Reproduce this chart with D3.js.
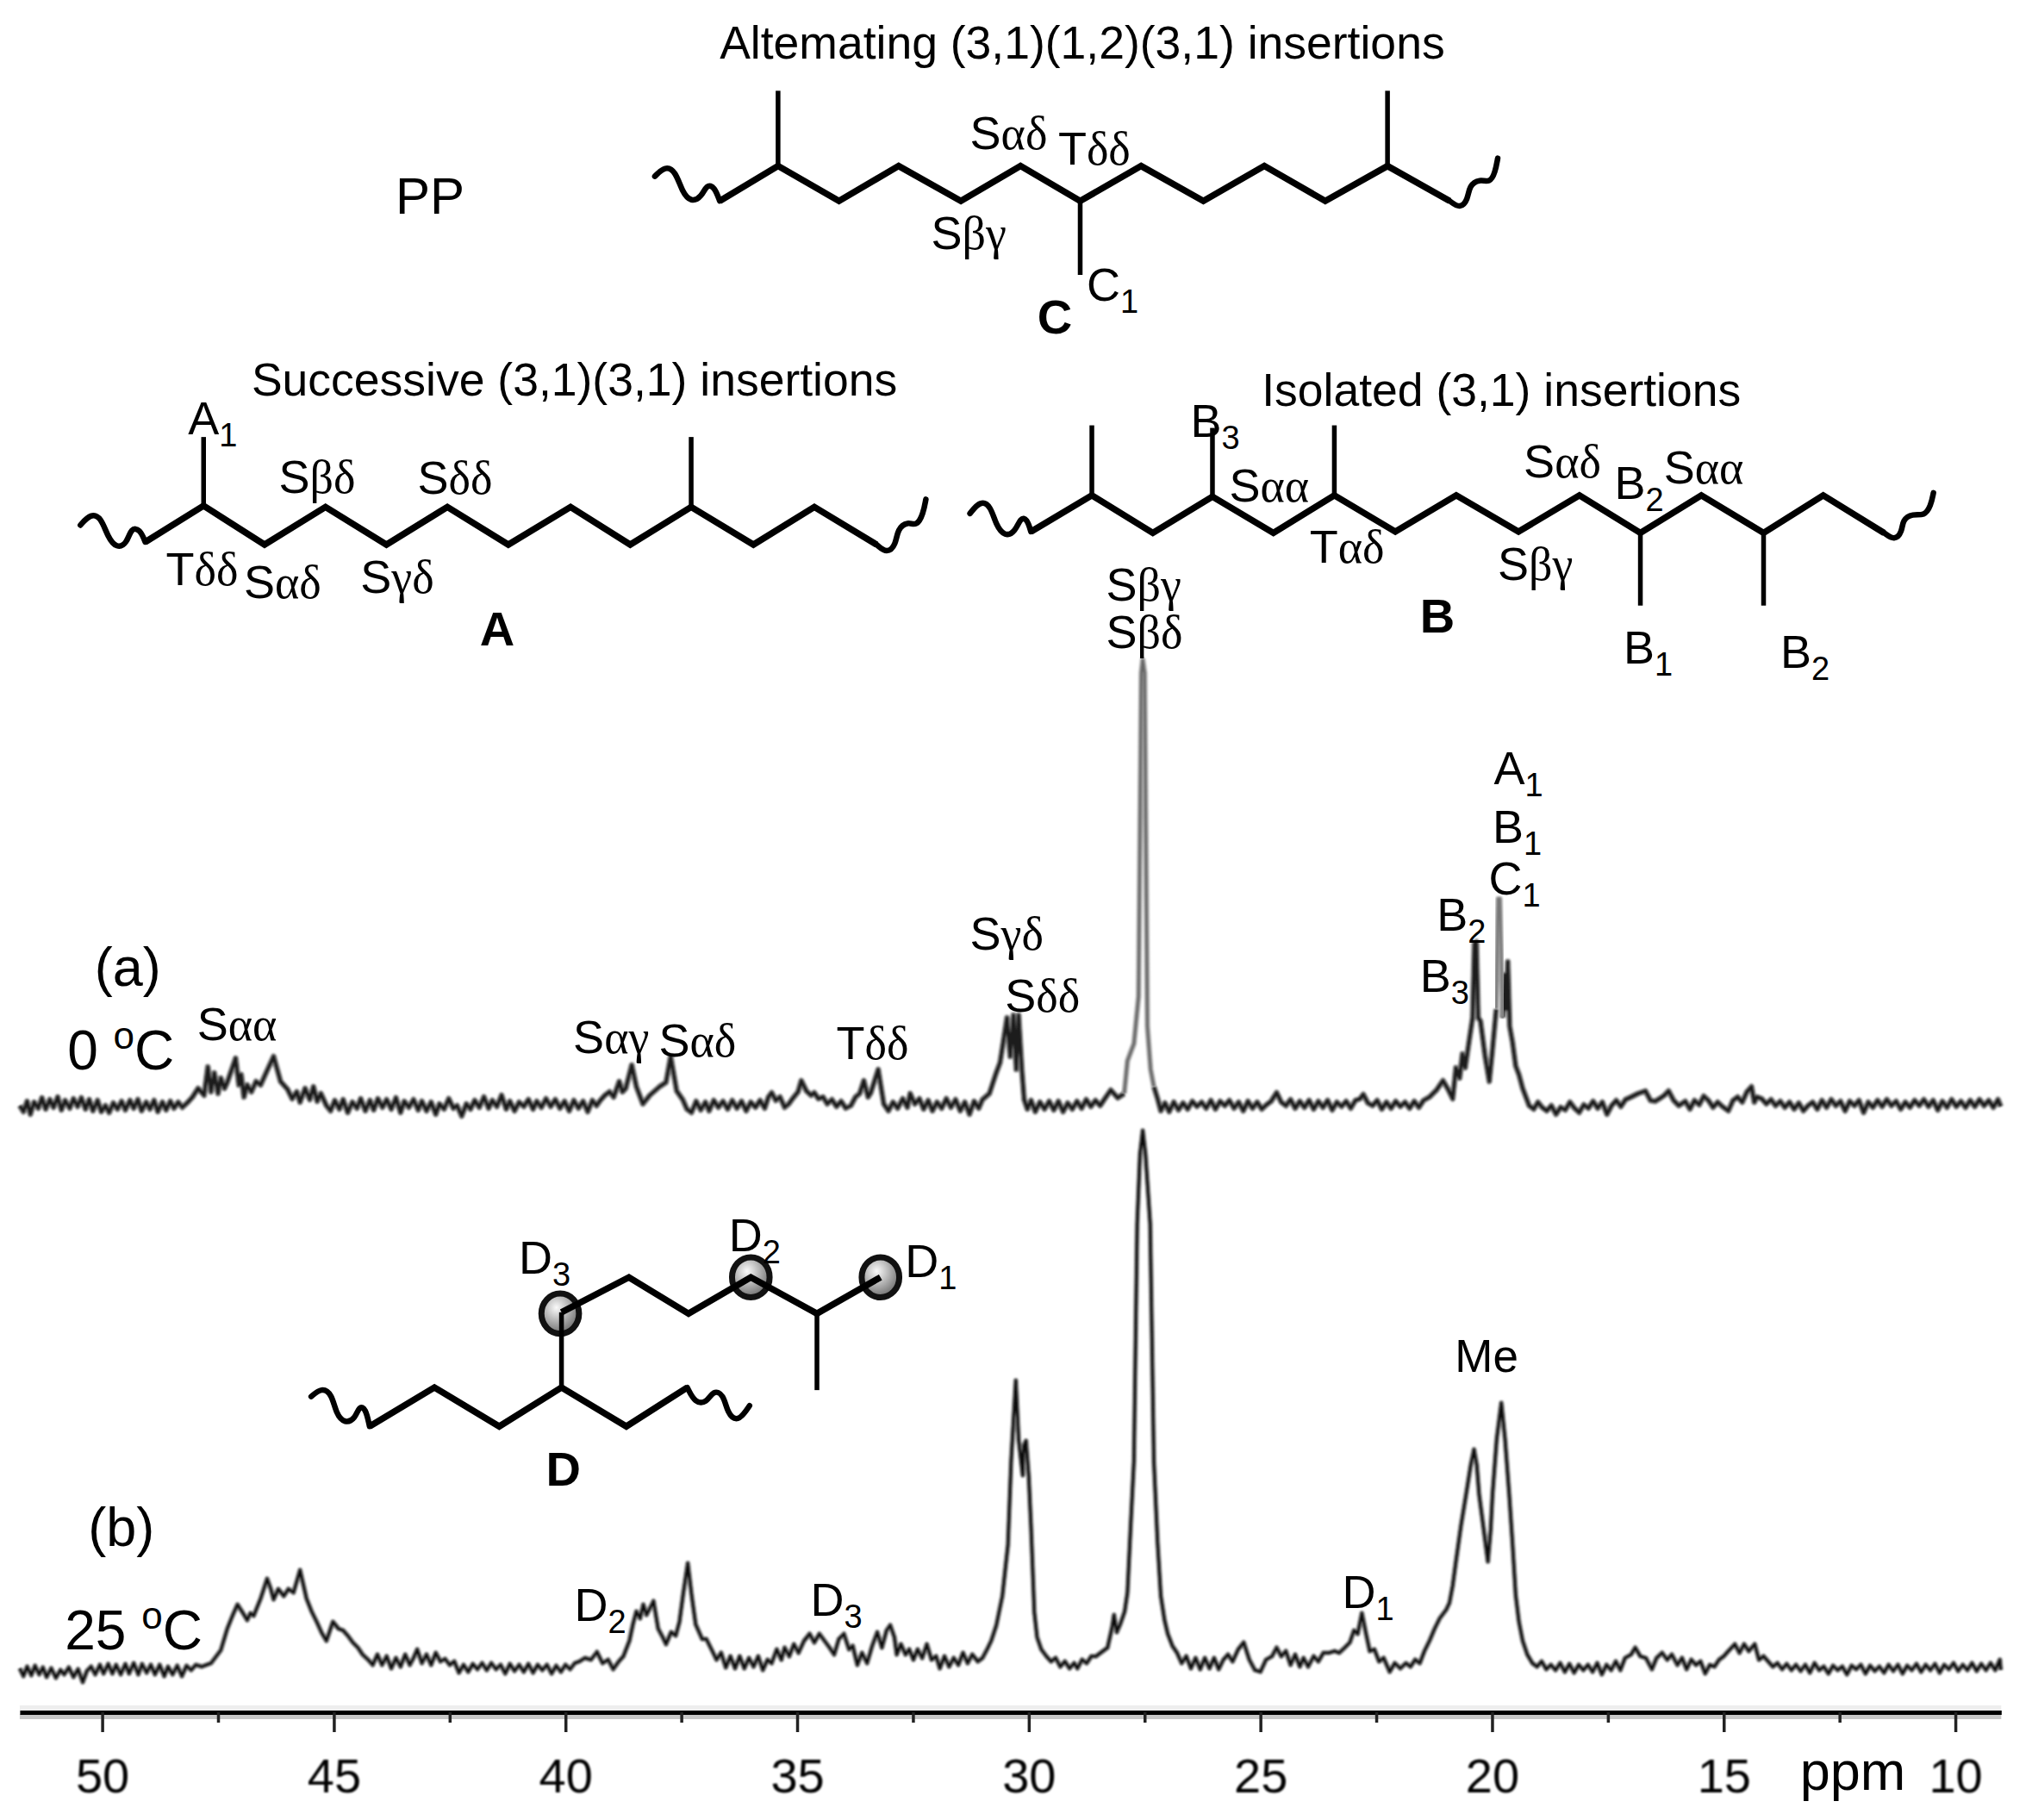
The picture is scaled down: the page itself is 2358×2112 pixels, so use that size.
<!DOCTYPE html>
<html><head><meta charset="utf-8">
<script src="https://cdnjs.cloudflare.com/ajax/libs/d3/7.8.5/d3.min.js"></script>
<style>html,body{margin:0;padding:0;background:#fff}svg{display:block}text{fill:#000}</style>
</head><body><svg id="c" width="2358" height="2112"></svg>
<script>
// ---------- axis ----------
const ppmMajor=[50,45,40,35,30,25,20,15,10];
const ppmMinor=[47.5,42.5,37.5,32.5,27.5,22.5,17.5,12.5];
// ---------- spectrum (a) 0 C : [ppm, intensity] ----------
const traceA1=[[51.78,-2],[51.7,-9],[51.62,3],[51.55,-12],[51.47,2],[51.38,-5],[51.3,7],[51.22,-6],[51.13,5],[51.05,-4],[50.96,8],[50.88,-7],[50.8,4],[50.7,-5],[50.62,6],[50.53,-3],[50.45,7],[50.36,-6],[50.28,5],[50.2,-8],[50.1,4],[50.02,-9],[49.93,-2],[49.85,-10],[49.76,1],[49.67,-6],[49.58,3],[49.5,-7],[49.4,4],[49.32,-5],[49.23,5],[49.15,-8],[49.05,2],[48.97,-6],[48.88,4],[48.8,-9],[48.7,2],[48.62,-7],[48.53,3],[48.45,-5],[48.36,2],[48.27,-4],
[48.15,2],[48.05,8],[47.93,18],[47.8,10],[47.72,43],[47.65,14],[47.58,36],[47.5,12],[47.44,30],[47.36,18],[47.3,25],[47.12,53],[47.05,22],[47,34],[46.94,8],[46.87,22],[46.78,14],[46.68,26],[46.58,22],[46.48,34],[46.3,55],[46.15,26],[46,17],[45.9,6],[45.8,14],[45.73,2],[45.62,18],[45.52,5],[45.44,20],[45.36,3],[45.28,12],[45.16,-2]];
const traceA2=[[45.07,-8],[44.98,4],[44.88,-6],[44.8,5],[44.7,-10],[44.6,2],[44.5,-5],[44.42,6],[44.32,-8],[44.22,4],[44.14,-7],[44.05,6],[43.95,-4],[43.86,5],[43.76,-6],[43.66,7],[43.56,-10],[43.48,3],[43.38,-4],[43.28,5],[43.18,-7],[43.1,3],[43,-8],[42.9,2],[42.8,-12],[42.72,0],[42.62,-6],[42.52,6],[42.42,-5],[42.34,-2],[42.24,-14],[42.14,0],[42.05,-6],[41.96,4],[41.86,-4],[41.76,8],[41.66,-5],[41.58,4],[41.48,-3],[41.38,10],[41.28,-6],[41.2,3],[41.1,-8],[41,2],[40.9,-3],[40.8,5],[40.7,-6],[40.62,3],[40.52,-4],[40.42,6],[40.32,-3],[40.22,5],[40.12,-5],[40.02,3],[39.92,-8],[39.82,4],[39.72,-5],[39.62,3],[39.52,-9],[39.42,4],[39.33,-2],
[39.25,4],[39.15,10],[39.05,14],[38.96,8],[38.84,26],[38.77,14],[38.7,18],[38.57,45],[38.47,20],[38.33,0],[38.18,10],[37.97,20],[37.83,25],[37.73,55],[37.6,15],[37.47,5]];
const traceA3=[[37.38,-6],[37.28,-10],[37.18,3],[37.08,-7],[36.98,2],[36.9,-8],[36.8,4],[36.7,-4],[36.6,3],[36.5,-6],[36.4,4],[36.3,-5],[36.2,3],[36.1,-8],[36,2],[35.9,-4],[35.8,4],[35.7,-5],[35.62,8],[35.55,13],[35.46,4],[35.37,8],[35.27,-4],[35.18,0],[35.1,6],[34.98,14],[34.91,27],[34.8,15],[34.7,10],[34.63,13],[34.54,6],[34.44,8],[34.35,0],[34.25,5],[34.15,-3],[34.05,3],[33.95,-5],[33.84,-2],[33.74,8],[33.65,12],[33.56,27],[33.47,8],[33.41,13],[33.25,40],[33.13,0],[33.03,-8],[32.93,2],[32.83,-5],[32.72,6],[32.62,-4],[32.56,12],[32.46,0],[32.36,6],[32.27,-6],[32.17,4],[32.08,-8],[31.98,2],[31.88,-5],[31.78,6],[31.68,-4],[31.58,5],[31.48,-8],[31.38,2],[31.28,-12],[31.18,3],[31.08,-5],[31,5],[30.85,12],[30.71,35],[30.62,48]];
const traceA4=[[30.55,72],[30.47,100],[30.4,55],[30.33,103],[30.27,40],[30.22,103],[30.15,40],[30.1,5],[30.03,-6],[29.95,4],[29.86,-9],[29.76,2],[29.66,-6],[29.56,3],[29.46,-7],[29.36,3],[29.26,-9],[29.16,1],[29.06,-6],[28.96,3],[28.86,-5],[28.76,5],[28.66,-3],[28.56,4],[28.46,-2],[28.36,6],[28.23,16],[28.08,7],[27.94,12]];
const peakA1=[[27.94,12],[27.87,50],[27.73,70],[27.63,125],[27.57,500],[27.54,515],[27.5,500],[27.44,90],[27.37,40],[27.3,20]];
const traceA5=[[27.3,20],[27.22,6],[27.15,-8],[27.06,1],[26.97,-9],[26.87,2],[26.77,-7],[26.67,1],[26.57,-6],[26.47,3],[26.37,-3],[26.27,2],[26.17,-5],[26.07,4],[25.97,-6],[25.87,3],[25.77,-2],[25.67,4],[25.57,-5],[25.47,2],[25.37,-8],[25.27,3],[25.17,-5],[25.07,2],[24.97,-6],[24.87,-1],[24.77,3],[24.65,13],[24.55,2],[24.45,-2],[24.35,5],[24.25,-5],[24.15,3],[24.05,-4],[23.95,4],[23.85,-6],[23.75,3],[23.65,-4],[23.55,4],[23.45,-7],[23.35,2],[23.25,-3],[23.15,3],[23.05,-5],[22.95,4],[22.85,6],[22.78,11],[22.68,1],[22.58,-2],[22.48,4],[22.38,-6],[22.28,2],[22.18,-5],[22.08,3],[21.98,-3],[21.88,2],[21.78,-5],[21.68,3],[21.58,-4],[21.48,4],[21.35,8],[21.2,16],[21.06,27],[20.95,17],[20.85,6],
[20.78,42],[20.7,30],[20.64,58],[20.58,42],[20.49,75],[20.42,100],[20.38,186],[20.34,188],[20.3,100],[20.25,96],[20.15,55],[20.06,26],[20,58],[19.91,110]];
const peakA2=[[19.91,110],[19.87,238],[19.83,238],[19.77,100]];
const traceA6=[[19.77,100],[19.72,150],[19.69,110],[19.66,165],[19.62,90],[19.56,72],[19.49,44],[19.42,34],[19.34,18],[19.27,8],[19.2,-2],[19.1,-6],[19.01,2],[18.92,-4],[18.82,-8],[18.72,-2],[18.62,-12],[18.52,-4],[18.42,-7],[18.32,2],[18.22,-5],[18.12,-10],[18.02,-1],[17.92,-5],[17.82,3],[17.72,-5],[17.62,2],[17.52,-12],[17.42,-2],[17.32,4],[17.22,-3],[17.12,5],[17,8],[16.85,12],[16.69,15],[16.58,4],[16.48,3],[16.36,7],[16.28,10],[16.19,15],[16.08,4],[15.97,-2],[15.83,3],[15.73,-6],[15.63,4],[15.53,-1],[15.43,9],[15.33,4],[15.23,-4],[15.13,2],[15.03,-3],[14.9,-8],[14.8,4],[14.7,8],[14.6,2],[14.5,14],[14.4,20],[14.34,2],[14.28,8],[14.18,6],[14.08,0],[13.98,5],[13.88,-2],[13.78,3],[13.68,-4],[13.58,2],[13.48,-6],[13.38,1],[13.28,-8],[13.18,-2],[13.08,2],[12.98,-6],[12.88,4],[12.78,-4],[12.68,5],[12.58,-2],[12.48,3],[12.38,-8],[12.28,3],[12.18,-2],[12.08,4],[11.98,-10],[11.88,2],[11.78,-4],[11.68,4],[11.58,-3],[11.48,5],[11.38,-2],[11.28,3],[11.18,-6],[11.08,2],[10.98,-4],[10.88,4],[10.78,-2],[10.68,5],[10.58,-3],[10.48,4],[10.38,-7],[10.28,3],[10.18,-4],[10.08,5],[9.98,-3],[9.88,3],[9.78,-4],[9.68,4],[9.58,-3],[9.48,5],[9.38,-2],[9.28,4],[9.18,-4],[9.08,5],[9.02,-3]];
// ---------- spectrum (b) 25 C : [ppm, intensity] ----------
const traceB1=[[51.78,4],[51.7,-5],[51.62,6],[51.53,-4],[51.45,7],[51.36,-3],[51.28,5],[51.2,-6],[51.1,4],[51,-7],[50.9,2],[50.82,-3],[50.72,5],[50.62,-6],[50.52,3],[50.42,-12],[50.33,1],[50.24,6],[50.15,-3],[50.05,8],[49.97,-2],[49.87,9],[49.78,-2],[49.7,8],[49.6,-3],[49.5,9],[49.42,-2],[49.32,10],[49.22,-3],[49.14,9],[49.04,-1],[48.95,8],[48.86,-3],[48.76,8],[48.66,-5],[48.58,6],[48.48,-3],[48.38,7],[48.28,-5],[48.18,7],[48.08,2],[47.98,8],[47.85,6],[47.65,10],[47.44,25],[47.3,50],[47.18,66],[47.08,78],[46.96,68],[46.87,60],[46.8,68],[46.73,65],[46.58,85],[46.44,108],[46.36,96],[46.3,84],[46.2,96],[46.08,88],[45.98,96],[45.87,92],[45.73,118],[45.59,85],[45.48,70],[45.37,58],[45.26,45],[45.16,36],[45.02,58],[44.9,50],[44.8,48],[44.7,42],[44.59,34],[44.48,28],[44.38,20],[44.26,14],[44.16,8],[44.06,20],[43.96,8],[43.86,18],[43.76,4],[43.66,16],[43.56,6],[43.46,20],[43.36,8],[43.28,16],[43.2,26],[43.1,10],[43,20],[42.9,8],[42.8,22],[42.7,12],[42.6,15],[42.5,8],[42.4,12],[42.3,-1],[42.2,8],[42.1,0],[42,9],[41.9,3],[41.8,10],[41.7,2],[41.6,10],[41.5,3],[41.4,8],[41.3,-2],[41.2,9],[41.1,1],[41,8],[40.9,0],[40.8,9],[40.7,-1],[40.6,8],[40.5,2],[40.4,8],[40.3,-2],[40.2,7],[40.1,0],[40,8],[39.9,3],[39.8,10],[39.7,12],[39.58,16],[39.45,14],[39.32,23],[39.2,10],[39.08,14],[38.97,3],[38.85,12],[38.75,18],[38.62,36],[38.54,56],[38.47,70],[38.39,62],[38.32,78],[38.25,66],[38.1,82],[38,50],[37.9,40],[37.83,32],[37.72,46],[37.62,42],[37.54,58],[37.46,90],[37.36,126],[37.28,90],[37.19,55],[37.05,38],[36.96,38],[36.83,24],[36.74,14],[36.64,22],[36.54,5],[36.44,18],[36.34,4],[36.24,18],[36.14,4],[36.04,16],[35.94,6],[35.84,18],[35.74,2],[35.64,14],[35.55,10],[35.44,26],[35.34,14],[35.27,28],[35.17,18],[35.07,32],[34.97,22],[34.85,36],[34.73,44],[34.63,34],[34.52,44],[34.41,36],[34.3,28],[34.2,20],[34.1,38],[33.99,44],[33.88,26],[33.8,30],[33.7,8],[33.6,22],[33.49,10],[33.38,30],[33.27,46],[33.17,28],[33.07,48],[32.99,54],[32.9,40],[32.85,20],[32.76,32],[32.66,20],[32.58,26],[32.49,14],[32.4,26],[32.3,16],[32.2,32],[32.1,14],[32,18],[31.92,4],[31.82,18],[31.72,6],[31.62,16],[31.52,8],[31.42,22],[31.32,10],[31.22,20],[31.1,12],[31,16],[30.9,26],[30.81,36],[30.7,54],[30.57,88]];
const traceB2=[[30.45,147],[30.38,245],[30.28,338],[30.22,270],[30.13,228],[30.11,262],[30.06,268],[30,226],[29.95,167],[29.88,69],[29.82,40],[29.73,26],[29.62,18],[29.52,12],[29.42,16],[29.32,6],[29.22,12],[29.12,4],[29.02,10],[28.95,4],[28.85,14],[28.75,10],[28.65,18],[28.55,18],[28.45,22],[28.3,28],[28.2,52],[28.16,66],[28.1,46],[28.02,56],[27.93,70],[27.87,92],[27.8,170],[27.73,245],[27.66,520],[27.6,600],[27.54,628],[27.48,600],[27.38,520],[27.3,245],[27.22,150],[27.15,88],[27.07,60],[27,44],[26.9,30],[26.8,22],[26.7,10],[26.6,18],[26.5,4],[26.4,16],[26.3,3],[26.2,16],[26.1,4],[26,16],[25.9,3],[25.8,14],[25.7,20],[25.6,12],[25.48,26],[25.36,34],[25.24,14],[25.12,2],[25,0],[24.88,14],[24.75,18],[24.65,28],[24.55,18],[24.45,24],[24.35,8],[24.25,20],[24.15,6],[24.07,16],[23.97,6],[23.85,18],[23.75,12],[23.64,22],[23.52,22],[23.4,24],[23.3,22],[23.18,28],[23.07,34],[22.98,48],[22.9,44],[22.81,68],[22.72,44],[22.64,24],[22.54,26],[22.44,12],[22.34,16],[22.21,0],[22.1,10],[21.98,4],[21.86,10],[21.76,6],[21.66,14],[21.56,10],[21.46,24],[21.35,36],[21.24,50],[21.13,62],[20.99,72],[20.92,80],[20.85,100],[20.78,128],[20.67,170],[20.56,206],[20.46,240],[20.39,258],[20.33,240],[20.28,206],[20.18,165],[20.09,128],[20.03,165],[19.99,206],[19.9,270],[19.8,312],[19.72,270],[19.63,206],[19.56,150],[19.49,89],[19.42,58],[19.34,36],[19.24,20],[19.13,10],[19.03,6],[18.93,12],[18.83,3],[18.73,8],[18.63,2],[18.53,10],[18.43,0],[18.33,9],[18.23,-1],[18.13,8],[18.03,2],[17.93,8],[17.83,0],[17.73,10],[17.63,-3],[17.53,8],[17.43,2],[17.33,12],[17.23,2],[17.13,16],[17,20],[16.91,28],[16.8,18],[16.68,16],[16.55,3],[16.45,16],[16.33,22],[16.22,14],[16.12,20],[16,8],[15.9,16],[15.8,3],[15.7,14],[15.6,8],[15.5,12],[15.4,-2],[15.3,8],[15.2,6],[15.1,14],[15,18],[14.9,24],[14.76,32],[14.66,22],[14.56,32],[14.46,24],[14.33,32],[14.24,14],[14.14,18],[14.04,12],[13.94,6],[13.84,10],[13.74,3],[13.64,9],[13.54,2],[13.44,8],[13.34,1],[13.24,8],[13.14,-1],[13.04,10],[12.94,2],[12.84,6],[12.74,-2],[12.64,7],[12.54,2],[12.44,6],[12.34,-3],[12.24,7],[12.14,3],[12.04,8],[11.94,-2],[11.84,7],[11.74,1],[11.64,6],[11.54,-1],[11.44,8],[11.34,1],[11.24,8],[11.14,-2],[11.04,7],[10.94,2],[10.84,9],[10.74,0],[10.64,8],[10.54,2],[10.44,9],[10.34,-1],[10.24,8],[10.14,3],[10.04,10],[9.94,1],[9.84,8],[9.74,2],[9.64,10],[9.54,1],[9.44,9],[9.34,2],[9.24,10],[9.14,2],[9.04,14],[9.02,2]];
// ---------- structure drawings (in a 1567-wide frame) ----------
const chainA=[[112,418],[157,390],[204,420],[251,391],[298,420],[345,391],[392,420],[440,391],[486,420],[533,391],[581,420],[628,391],[676,420]];
const methylA=[[[157,390],[157,337]],[[533,391],[533,337]]];
const chainB=[[795,410],[842,382],[889,411],[935,383],[982,411],[1029,382],[1076,410],[1123,382],[1171,410],[1218,382],[1265,411],[1312,382],[1360,411],[1406,382],[1453,411]];
const methylB=[[[842,382],[842,328]],[[935,383],[935,330]],[[1029,382],[1029,328]],[[1265,411],[1265,467]],[[1360,411],[1360,467]]];
const chainC=[[555,155],[600,128],[647,155],[693,128],[741,155],[787,128],[833,155],[880,128],[928,155],[975,128],[1022,155],[1070,128],[1118,155]];
const methylC=[[[600,128],[600,70]],[[1070,128],[1070,70]],[[833,155],[833,212]]];
const chainD1=[[285,1100],[335,1070],[385,1100],[433,1070],[483,1100],[530,1070]];
const chainD2=[[433,1012],[485,985],[531,1013],[579,985],[630,1013],[679,985]];
const methylD=[[[433,1070],[433,1012]],[[630,1013],[630,1072]]];
const squiggles=[
 [[62,405],[70,396],[78,399],[83,414],[90,423],[98,419],[101,407],[108,408],[112,418]],
 [[676,420],[684,427],[691,420],[692,408],[700,402],[707,406],[712,396],[714,385]],
 [[748,396],[756,386],[764,390],[768,405],[775,414],[783,410],[787,399],[792,400],[795,410]],
 [[1453,411],[1461,417],[1467,410],[1467,401],[1475,396],[1484,398],[1489,390],[1491,380]],
 [[505,136],[513,128],[521,132],[526,148],[533,156],[541,152],[545,142],[551,144],[555,155]],
 [[1118,155],[1126,161],[1132,154],[1133,143],[1141,138],[1149,141],[1153,133],[1155,122]],
 [[240,1077],[248,1070],[256,1075],[259,1090],[266,1098],[274,1094],[277,1084],[282,1086],[285,1100]],
 [[530,1070],[536,1082],[545,1082],[550,1072],[558,1075],[561,1090],[568,1096],[574,1090],[578,1084]]
];
const atoms=[[432,1013],[579,985],[679,985]];
// ---------- labels: left, baseline, main, tail ----------
const greekLabels=[
 [215,380,"S","βδ"],[322,381,"S","δδ"],[128,451,"T","δδ"],[188,461,"S","αδ"],[278,457,"S","γδ"],
 [748,115,"S","αδ"],[816,127,"T","δδ"],[718,192,"S","βγ"],
 [948,387,"S","αα"],[1010,434,"T","αδ"],[1175,368,"S","αδ"],[1283,373,"S","αα"],[1155,447,"S","βγ"],
 [853,463,"S","βγ"],[853,500,"S","βδ"],
 [152,802,"S","αα"],[442,812,"S","αγ"],[508,815,"S","αδ"],[645,817,"T","δδ"],[748,732,"S","γδ"],[775,780,"S","δδ"]];
const subLabels=[
 [145,335,"A","1"],[838,232,"C","1"],[918,337,"B","3"],[1245,385,"B","2"],[1252,512,"B","1"],[1373,515,"B","2"],
 [1152,605,"A","1"],[1151,650,"B","1"],[1148,690,"C","1"],[1108,718,"B","2"],[1095,765,"B","3"],
 [400,982,"D","3"],[562,965,"D","2"],[698,985,"D","1"],[443,1250,"D","2"],[625,1246,"D","3"],[1035,1240,"D","1"]];
const boldLabels=[[370,498,"A"],[1095,488,"B"],[800,257,"C"],[421,1146,"D"]];
const titles=[[555,45,"Altemating (3,1)(1,2)(3,1) insertions"],[194,305,"Successive (3,1)(3,1) insertions"],[973,313,"Isolated (3,1) insertions"],[1122,1058,"Me"]];

const svg=d3.select("#c");
const defs=svg.append("defs");
defs.append("filter").attr("id","soft").append("feGaussianBlur").attr("stdDeviation",1.1);
defs.append("filter").attr("id","soft2").append("feGaussianBlur").attr("stdDeviation",0.9);
const rg=defs.append("radialGradient").attr("id","ball").attr("cx","40%").attr("cy","35%").attr("r","70%");
rg.append("stop").attr("offset","0%").attr("stop-color","#fafafa");
rg.append("stop").attr("offset","100%").attr("stop-color","#666");

const sans="'Liberation Sans',Arial,sans-serif", serif="'Liberation Serif',serif";
const K=d3.scaleLinear().domain([0,1567]).range([0,2358]);
const x=d3.scaleLinear().domain([51.78,9.01]).range([22.9,2322.3]);
const yA=d3.scaleLinear().domain([0,515]).range([1281,766]);
const yB=d3.scaleLinear().domain([0,628]).range([1940,1312]);

// spectra
const line=y=>d3.line().x(d=>x(d[0])).y(d=>y(d[1]));
function trace(parts,y,under,uw,core,cw){
  const g=svg.append("g").attr("filter","url(#soft)");
  const d=line(y)(parts.flat());
  g.append("path").attr("d",d).attr("fill","none").attr("stroke",under).attr("stroke-width",uw).attr("stroke-linejoin","round");
  g.append("path").attr("d",d).attr("fill","none").attr("stroke",core).attr("stroke-width",cw).attr("stroke-linejoin","round");
}
trace([traceA1,traceA2,traceA3,traceA4],yA,"#888",7,"#1a1a1a",4.2);
trace([traceA5],yA,"#888",7,"#1a1a1a",4.2);
trace([traceA6],yA,"#888",7,"#1a1a1a",4.2);
trace([peakA1],yA,"#aaa",6.5,"#666",3);
trace([peakA2],yA,"#aaa",6,"#777",3);
trace([traceB1,traceB2],yB,"#888",6,"#111",3.6);

// axis
const axisY=1987;
svg.append("rect").attr("x",x.range()[0]).attr("width",x.range()[1]-x.range()[0]).attr("y",1979).attr("height",6).attr("fill","#eee");
svg.append("rect").attr("x",x.range()[0]).attr("width",x.range()[1]-x.range()[0]).attr("y",1989).attr("height",6).attr("fill","#c8c8c8");
const axMajor=d3.axisBottom(x).tickValues(ppmMajor).tickSize(23).tickPadding(30).tickSizeOuter(0).tickFormat(d3.format("d"));
const gM=svg.append("g").attr("transform",`translate(0,${axisY})`).call(axMajor);
gM.select(".domain").attr("stroke","#000").attr("stroke-width",5);
gM.selectAll(".tick line").attr("stroke","#222").attr("stroke-width",3.5);
gM.selectAll(".tick text").attr("font-family",sans).attr("font-size",56).attr("fill","#222").attr("filter","url(#soft2)");
const gm=svg.append("g").attr("transform",`translate(0,${axisY})`).call(d3.axisBottom(x).tickValues(ppmMinor).tickSize(12).tickSizeOuter(0).tickFormat(""));
gm.select(".domain").remove();
gm.selectAll(".tick line").attr("stroke","#222").attr("stroke-width",3.5);

// structures
const bond=d3.line().x(d=>K(d[0])).y(d=>K(d[1]));
const wave=d3.line().x(d=>K(d[0])).y(d=>K(d[1])).curve(d3.curveBasis);
const st=svg.append("g").attr("fill","none").attr("stroke","#000").attr("stroke-linejoin","miter");
st.selectAll("ellipse").data(atoms).join("ellipse").attr("cx",d=>K(d[0])).attr("cy",d=>K(d[1]))
  .attr("rx",K(14.5)).attr("ry",K(15.5)).attr("fill","url(#ball)").attr("stroke","#111").attr("stroke-width",7);
[chainA,chainB,chainC,chainD1,chainD2].forEach(c=>st.append("path").attr("d",bond(c)).attr("stroke-width",7.5));
[methylA,methylB,methylC,methylD].flat().forEach(m=>st.append("path").attr("d",bond(m)).attr("stroke-width",5.5));
squiggles.forEach(s=>st.append("path").attr("d",wave(s)).attr("stroke-width",6.5).attr("stroke-linecap","round"));

// text
const T=svg.append("g").attr("font-family",sans);
titles.forEach(t=>T.append("text").attr("x",K(t[0])).attr("y",K(t[1])).attr("font-size",t[2]==="Me"?53:53.5).text(t[2]));
T.append("text").attr("x",K(305)).attr("y",K(165)).attr("font-size",60).text("PP");
greekLabels.forEach(l=>{const t=T.append("text").attr("x",K(l[0])).attr("y",K(l[1])).attr("font-size",54);
  t.append("tspan").text(l[2]);
  t.append("tspan").attr("font-family",serif).attr("font-size",54).text(l[3]);});
subLabels.forEach(l=>{const t=T.append("text").attr("x",K(l[0])).attr("y",K(l[1])).attr("font-size",54);
  t.append("tspan").text(l[2]);
  t.append("tspan").attr("font-size",38).attr("dy",14).text(l[3]);});
boldLabels.forEach(l=>T.append("text").attr("x",K(l[0])).attr("y",K(l[1])).attr("font-size",56).attr("font-weight","bold").text(l[2]));
T.append("text").attr("x",K(73)).attr("y",K(760)).attr("font-size",63).text("(a)");
T.append("text").attr("x",K(68)).attr("y",K(1192)).attr("font-size",63).text("(b)");
function temp(left,base,val){const t=T.append("text").attr("x",K(left)).attr("y",K(base)).attr("font-size",64);
  t.append("tspan").text(val+" ");
  t.append("tspan").attr("font-size",44).attr("dy",-24).text("o");
  t.append("tspan").attr("dy",24).text("C");}
temp(52,825,"0");temp(50,1272,"25");
T.append("text").attr("x",K(1388)).attr("y",K(1380)).attr("font-size",63).text("ppm");
</script></body></html>
